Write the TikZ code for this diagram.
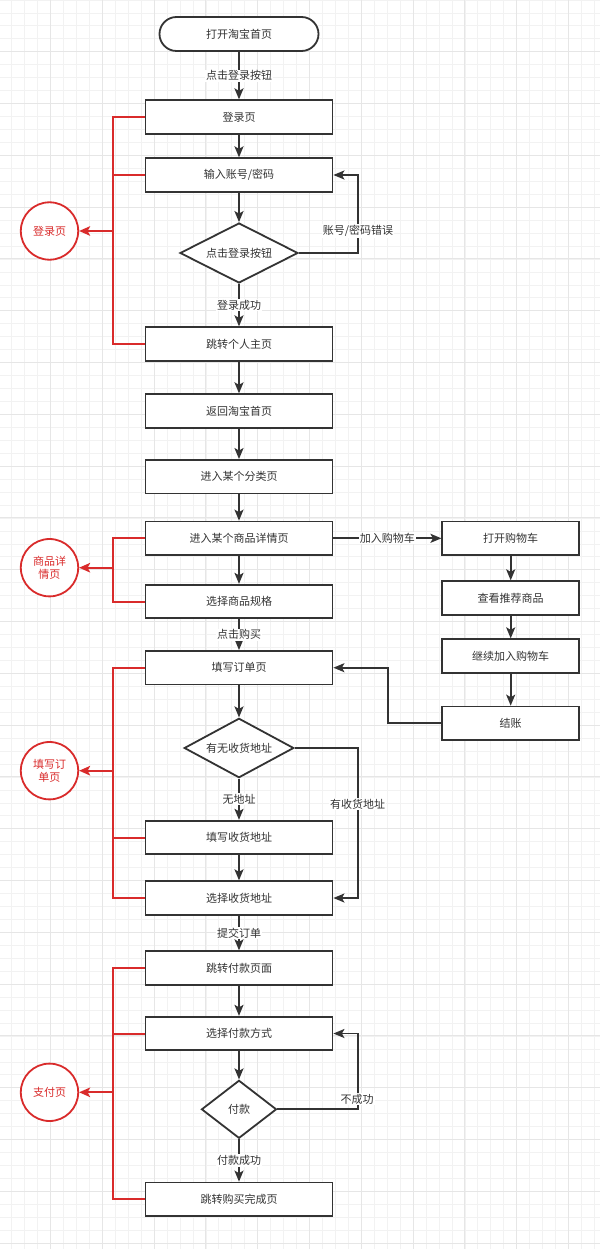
\documentclass[tikz,border=0pt]{standalone}
\usepackage{fontspec}
\newfontfamily\cjk{Noto Sans CJK SC}
\usetikzlibrary{shapes.geometric,arrows.meta}
\definecolor{ink}{HTML}{333333}
\definecolor{redc}{HTML}{D92B2B}
\definecolor{gmin}{HTML}{F2F2F2}
\definecolor{gmaj}{HTML}{E6E6E6}
\tikzset{
  txt/.style={font=\cjk\fontsize{11}{13}\selectfont, text=ink},
  box/.style={txt, draw=ink, line width=1.8pt, fill=white, rectangle, minimum width=187pt, minimum height=33.5pt, inner sep=0pt},
  rbox/.style={box, minimum width=136.7pt},
  term/.style={box, rounded corners=17pt, minimum width=159pt, minimum height=34pt},
  dec/.style={txt, draw=ink, line width=1.8pt, fill=white, diamond, aspect=2, inner sep=0pt},
  circ/.style={txt, text=redc, draw=redc, line width=1.8pt, fill=white, circle, minimum size=57.4pt, inner sep=0pt, align=center},
  arr/.style={draw=ink, line width=1.8pt, -{Stealth[length=11pt,width=9pt,inset=2.5pt]}},
  redl/.style={draw=redc, line width=2pt},
  redarr/.style={redl, -{Stealth[length=11pt,width=9.5pt,inset=2.5pt]}},
  lbl/.style={txt, fill=white, inner sep=1pt},
}
\begin{document}
\begin{tikzpicture}[x=1pt,y=-1pt]
\useasboundingbox (0,0) rectangle (600,1249);
\fill[white] (0,0) rectangle (600,1249);
% background grid
\foreach \i in {0,...,47} {
  \draw[gmin, line width=0.6pt] ({\i*12.95-1.4},0) -- ({\i*12.95-1.4},1249);
}
\foreach \i in {0,...,97} {
  \draw[gmin, line width=0.6pt] (0,{\i*12.95-0.1}) -- (600,{\i*12.95-0.1});
}
\foreach \i in {0,...,12} {
  \draw[gmaj, line width=0.9pt] ({\i*51.8-1.4},0) -- ({\i*51.8-1.4},1249);
}
\foreach \i in {0,...,24} {
  \draw[gmaj, line width=0.9pt] (0,{\i*51.8-0.1}) -- (600,{\i*51.8-0.1});
}

% main column
\node[term] (start) at (239,34) {打开淘宝首页};
\node[box] (login) at (239,117) {登录页};
\node[box] (input) at (239,175) {输入账号/密码};
\node[dec, minimum width=118pt, minimum height=60pt] (d1) at (239,253) {点击登录按钮};
\node[box] (home) at (239,344) {跳转个人主页};
\node[box] (back) at (239,411) {返回淘宝首页};
\node[box] (cat) at (239,476.7) {进入某个分类页};
\node[box] (detail) at (239,538.3) {进入某个商品详情页};
\node[box] (spec) at (239,601.5) {选择商品规格};
\node[box] (order) at (239,667.7) {填写订单页};
\node[dec, minimum width=109.6pt, minimum height=59.4pt] (d2) at (239,748) {有无收货地址};
\node[box] (fill) at (239,837.5) {填写收货地址};
\node[box] (choose) at (239,898) {选择收货地址};
\node[box] (pay) at (239,968) {跳转付款页面};
\node[box] (method) at (239,1033.5) {选择付款方式};
\node[dec, minimum width=75pt, minimum height=58pt] (d3) at (239,1109.3) {付款};
\node[box] (done) at (239,1199.3) {跳转购买完成页};

% right column
\node[rbox] (cart) at (510.7,538.3) {打开购物车};
\node[rbox] (rec) at (510.7,598) {查看推荐商品};
\node[rbox] (more) at (510.7,656) {继续加入购物车};
\node[rbox] (checkout) at (510.7,723.3) {结账};

% section circles
\node[circ] (c1) at (49.5,231) {登录页};
\node[circ] (c2) at (49.5,567.7) {商品详\\情页};
\node[circ] (c3) at (49.5,770.7) {填写订\\单页};
\node[circ] (c4) at (49.5,1092.3) {支付页};

% black connectors
\draw[arr] (start) -- node[lbl] {点击登录按钮} (login);
\draw[arr] (login) -- (input);
\draw[arr] (input) -- (d1);
\draw[arr] (d1) -- node[lbl] {登录成功} (home);
\coordinate (k1) at (358,253);
\draw[arr] (d1.east) -- (k1) |- (input.east);
\node[lbl] (l1) at (358,231) {账号/密码错误};
\draw[arr] (home) -- (back);
\draw[arr] (back) -- (cat);
\draw[arr] (cat) -- (detail);
\draw[arr] (detail) -- (spec);
\draw[arr] (spec) -- node[lbl] {点击购买} (order);
\draw[arr] (detail) -- node[lbl] {加入购物车} (cart);
\draw[arr] (cart) -- (rec);
\draw[arr] (rec) -- (more);
\draw[arr] (more) -- (checkout);
\coordinate (k2) at (387.7,723.3);
\draw[arr] (checkout.west) -- (k2) |- (order.east);
\draw[arr] (order) -- (d2);
\draw[arr] (d2) -- node[lbl] {无地址} (fill);
\coordinate (k3) at (358.3,748);
\draw[arr] (d2.east) -- (k3) |- (choose.east);
\node[lbl] (l3) at (357.7,804.3) {有收货地址};
\draw[arr] (fill) -- (choose);
\draw[arr] (choose) -- node[lbl] {提交订单} (pay);
\draw[arr] (pay) -- (method);
\draw[arr] (method) -- (d3);
\draw[arr] (d3) -- node[lbl] {付款成功} (done);
\coordinate (k4) at (357.7,1109.3);
\draw[arr] (d3.east) -- (k4) |- (method.east);
\node[lbl] (l4) at (357,1099) {不成功};

% red brackets
\coordinate (b1) at (112.7,231);
\draw[redl] (login.west) -| (b1);
\draw[redl] (input.west) -- (input.west -| b1);
\draw[redl] (home.west) -| (b1);
\draw[redarr] (b1) -- (c1);

\coordinate (b2) at (112.5,567.7);
\draw[redl] (detail.west) -| (b2);
\draw[redl] (spec.west) -| (b2);
\draw[redarr] (b2) -- (c2);

\coordinate (b3) at (112.7,770.7);
\draw[redl] (order.west) -| (b3);
\draw[redl] (fill.west) -- (fill.west -| b3);
\draw[redl] (choose.west) -| (b3);
\draw[redarr] (b3) -- (c3);

\coordinate (b4) at (112.7,1092.3);
\draw[redl] (pay.west) -| (b4);
\draw[redl] (method.west) -- (method.west -| b4);
\draw[redl] (done.west) -| (b4);
\draw[redarr] (b4) -- (c4);
\end{tikzpicture}
\end{document}
